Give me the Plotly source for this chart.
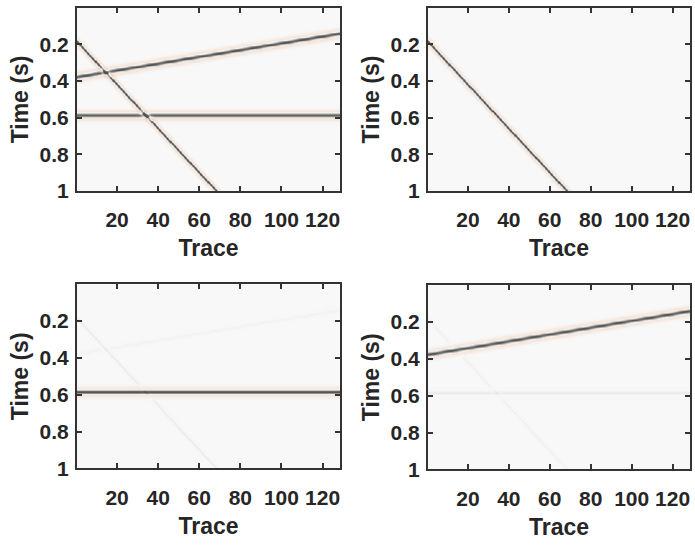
import numpy as np
import plotly.graph_objects as go

# ---- data: synthetic seismic events ----
n_traces = 128
dt = 0.004
n_samples = 250                     # 0.004 .. 1.0 s
event_names = ["dipping", "rising", "flat"]
event_t0 = [0.19, 0.375, 0.585]     # time at trace 1 (s)
event_dip = [0.012, -0.00185, 0.0]  # s per trace
event_amp = [1.0, 1.0, 1.0]
wavelet_freq = 19.0                 # Hz

# which events (and with what amplitude) appear in each panel
panel_events = [
    [1.0, 1.0, 1.0],    # top-left: all
    [1.0, 0.0, 0.0],    # top-right: dipping
    [0.07, 0.03, 1.0],  # bottom-left: flat (+ faint leakage)
    [0.04, 1.0, 0.07],  # bottom-right: rising (+ faint leakage)
]

x_ticks = [20, 40, 60, 80, 100, 120]
y_ticks = [0.2, 0.4, 0.6, 0.8, 1.0]
y_ticktext = ["0.2", "0.4", "0.6", "0.8", "1"]

# display grid (traces sampled finely so steep events render smoothly)
trace_pos = np.arange(0.5, n_traces + 0.5001, 0.25)
times = np.arange(1, n_samples + 1) * dt


def ricker(t, f):
    a = (np.pi * f * t) ** 2
    return (1 - 2 * a) * np.exp(-a)


def build_section(weights):
    z = np.zeros((n_samples, trace_pos.size))
    for w, t0, p, amp in zip(weights, event_t0, event_dip, event_amp):
        if w == 0:
            continue
        tt = t0 + p * (trace_pos - 1)
        z += w * amp * ricker(times[:, None] - tt[None, :], wavelet_freq)
    return z


colorscale = [[0.0, "#f2d0b6"], [0.5, "#f8f8f8"], [1.0, "#4e4e4e"]]

fig = go.Figure()

W, H = 695, 550
boxes = [  # left, right, top, bottom in pixels
    (77, 340, 8, 195),
    (428, 690, 8, 195),
    (77, 340, 290, 478),
    (428, 690, 291, 479),
]

font_tick = dict(family="Liberation Sans, Arial, sans-serif", size=21, color="#262626", weight="bold")
font_title = dict(family="Liberation Sans, Arial, sans-serif", size=23, color="#262626", weight="bold")

for i, (w, box) in enumerate(zip(panel_events, boxes)):
    z = build_section(w)
    sfx = "" if i == 0 else str(i + 1)
    fig.add_trace(go.Heatmap(
        x=trace_pos, y=times, z=z, zmin=-1, zmax=1,
        colorscale=colorscale, showscale=False, zsmooth="best",
        xaxis="x" + sfx, yaxis="y" + sfx, hoverinfo="skip"))
    l, r, t, b = box
    fig.layout["xaxis" + sfx] = dict(
        domain=[l / W, r / W], anchor="y" + sfx, range=[0.5, 128.5],
        tickvals=x_ticks, ticks="inside", ticklen=5, tickwidth=1.5, tickcolor="#333",
        showline=True, linecolor="#333", linewidth=2, mirror="ticks",
        showgrid=False, zeroline=False, tickfont=font_tick, ticklabelstandoff=9,
        title=dict(text="Trace", font=font_title, standoff=10))
    fig.layout["yaxis" + sfx] = dict(
        domain=[1 - b / H, 1 - t / H], anchor="x" + sfx, range=[1.0, 0.0],
        tickvals=y_ticks, ticktext=y_ticktext, ticks="inside", ticklen=5, tickwidth=1.5,
        tickcolor="#333", showline=True, linecolor="#333", linewidth=2, mirror="ticks",
        showgrid=False, zeroline=False, tickfont=font_tick, ticklabelstandoff=2,
        title=dict(text="Time (s)", font=font_title, standoff=5))

fig.update_layout(
    width=W, height=H, margin=dict(l=0, r=0, t=0, b=0),
    paper_bgcolor="white", plot_bgcolor="white", showlegend=False)

fig.write_html("out.html", config={"displayModeBar": False},
               post_script="document.body.style.margin='0';")
